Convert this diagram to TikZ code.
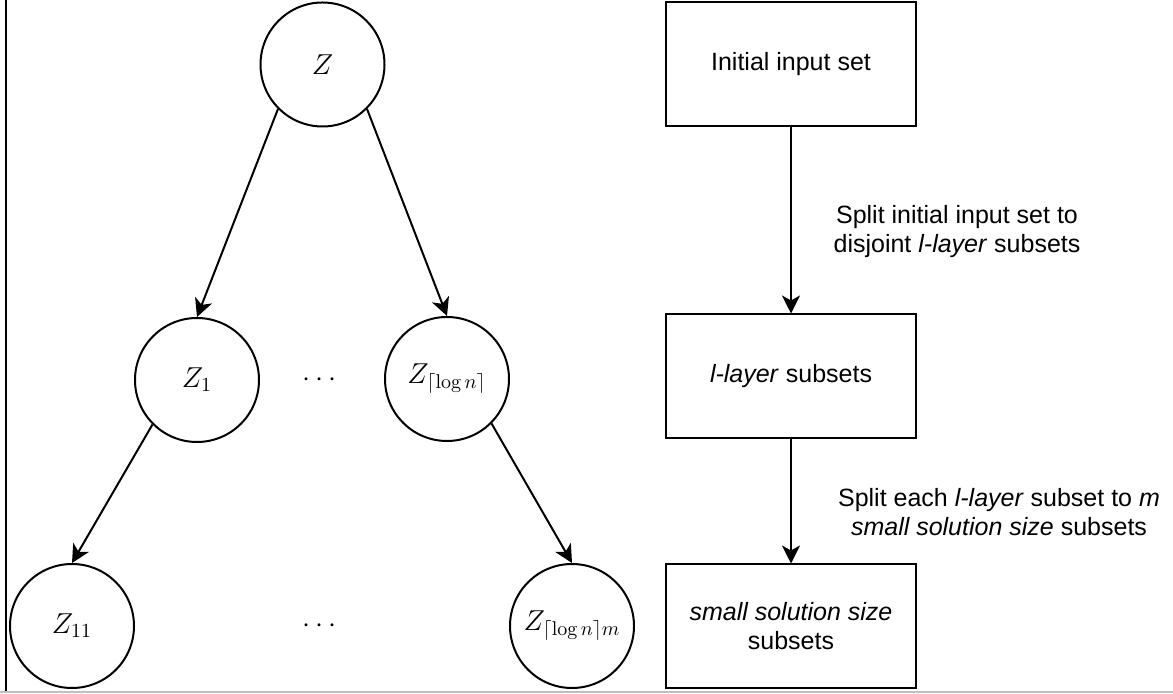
\documentclass[tikz,border=0pt]{standalone}
\usepackage{amsmath}
\usepackage[no-math]{fontspec}
\setmainfont{Liberation Sans}
\usepackage{tikz}
\usetikzlibrary{arrows.meta}

\begin{document}
\begin{tikzpicture}[x=0.5pt,y=-0.5pt,
	vertex/.style={shape=circle,draw=black,line width=1pt,minimum size=62pt,inner sep=0pt,font=\fontsize{14.5}{17}\selectfont},
	stage/.style={shape=rectangle,draw=black,line width=1pt,minimum width=125pt,minimum height=62pt,inner sep=0pt,align=center,font=\fontsize{12.5}{14.5}\selectfont},
	note/.style={align=center,inner sep=0pt,font=\fontsize{12.5}{14.5}\selectfont},
	gap/.style={font=\fontsize{14.5}{17}\selectfont},
	>={Stealth[length=9pt,width=9pt,inset=2.5pt]}]
	\useasboundingbox (0,0) rectangle (1173,694);
	\draw[line width=1pt] (6,0) -- (6,692);
	\draw[black!25,line width=1pt] (0,692) -- (1173,692);

	\node[vertex] (z)    at (322.5, 64.5)  {$Z$};
	\node[vertex] (z1)   at (197, 380)     {$Z_1$};
	\node[vertex] (zl)   at (447, 379)     {$Z_{\lceil \log n \rceil}$};
	\node[vertex] (z11)  at (72, 626)      {$Z_{11}$};
	\node[vertex] (zlm)  at (572, 626)     {$Z_{\lceil \log n \rceil m}$};
	\node[gap]    (dot1) at (322, 380)     {$\cdots$};
	\node[gap]    (dot2) at (322, 626)     {$\cdots$};

	\node[stage] (init)  at (791, 64.5)    {Initial input set};
	\node[stage] (layer) at (791, 376.5)   {\textit{l-layer} subsets};
	\node[stage] (small) at (791, 626.5)   {\textit{small solution size}\\subsets};

	\node[note] (split1) at (957, 232)     {Split initial input set to\\disjoint \textit{l-layer} subsets};
	\node[note] (split2) at (999, 512)     {Split each \textit{l-layer} subset to \textit{m}\\\textit{small solution size} subsets};

	\path[->,line width=1pt] (z.225) edge (z1.north);
	\path[->,line width=1pt] (z.315) edge (zl.north);
	\path[->,line width=1pt] (z1.225) edge (z11.north);
	\path[->,line width=1pt] (zl.315) edge (zlm.north);
	\path[->,line width=1pt] (init) edge (layer);
	\path[->,line width=1pt] (layer) edge (small);
\end{tikzpicture}
\end{document}
